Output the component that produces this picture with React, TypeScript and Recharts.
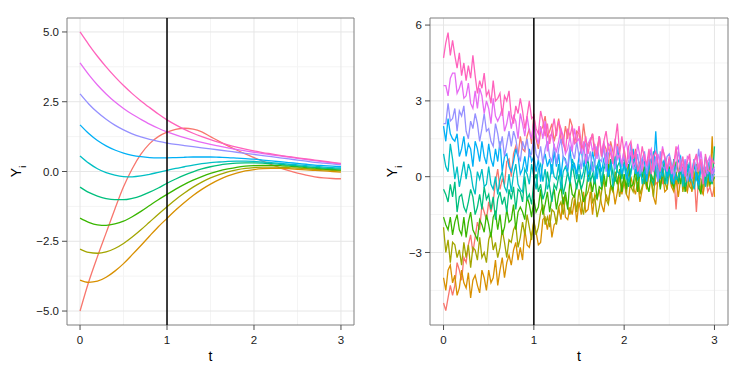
import React from "react";
import {
  CartesianGrid,
  Line,
  LineChart,
  ReferenceArea,
  ReferenceLine,
  XAxis,
  YAxis,
} from "recharts";

const FONT = '"Liberation Sans", Arial, Helvetica, sans-serif';

// ggplot hue palette, group 1..10
const COLORS = [
  "#F8766D",
  "#D89000",
  "#A3A500",
  "#39B600",
  "#00BF7D",
  "#00BFC4",
  "#00B0F6",
  "#9590FF",
  "#E76BF3",
  "#FF62BC",
];

const X_TICKS = [0, 1, 2, 3];
const X_MINOR = [0.5, 1.5, 2.5];

// left panel: deterministic solutions
const T_SMOOTH = [
  0, 0.1, 0.2, 0.3, 0.4, 0.5, 0.6, 0.7, 0.8, 0.9, 1, 1.1, 1.2, 1.3, 1.4, 1.5,
  1.6, 1.7, 1.8, 1.9, 2, 2.1, 2.2, 2.3, 2.4, 2.5, 2.6, 2.7, 2.8, 2.9, 3,
];
const smoothRed = [-5, -3.95, -3.05, -2.2, -1.35, -0.55, 0.1, 0.62, 1.0, 1.25, 1.41, 1.51, 1.55, 1.52, 1.42, 1.25, 1.08, 0.92, 0.77, 0.63, 0.5, 0.37, 0.25, 0.13, 0.03, -0.06, -0.13, -0.19, -0.23, -0.25, -0.26];
const smoothOrange = [-3.89, -3.97, -3.93, -3.79, -3.57, -3.3, -2.98, -2.65, -2.31, -1.98, -1.68, -1.38, -1.11, -0.86, -0.64, -0.45, -0.29, -0.16, -0.06, 0.02, 0.07, 0.1, 0.11, 0.11, 0.1, 0.08, 0.06, 0.04, 0.02, 0.0, -0.02];
const smoothOlive = [-2.78, -2.9, -2.93, -2.88, -2.76, -2.58, -2.35, -2.09, -1.81, -1.53, -1.26, -1.0, -0.77, -0.56, -0.38, -0.23, -0.11, -0.01, 0.06, 0.11, 0.14, 0.16, 0.16, 0.15, 0.14, 0.12, 0.1, 0.08, 0.06, 0.04, 0.02];
const smoothGreen = [-1.67, -1.82, -1.91, -1.93, -1.88, -1.78, -1.62, -1.43, -1.22, -1.01, -0.82, -0.63, -0.46, -0.31, -0.18, -0.07, 0.02, 0.09, 0.15, 0.19, 0.21, 0.22, 0.22, 0.21, 0.19, 0.17, 0.14, 0.12, 0.09, 0.07, 0.05];
const smoothTeal = [-0.56, -0.75, -0.88, -0.97, -1.01, -1.01, -0.96, -0.87, -0.74, -0.59, -0.42, -0.27, -0.13, -0.01, 0.09, 0.17, 0.23, 0.27, 0.3, 0.31, 0.31, 0.3, 0.28, 0.26, 0.23, 0.2, 0.17, 0.15, 0.12, 0.1, 0.09];
const smoothCyan = [0.56, 0.3, 0.1, -0.04, -0.13, -0.18, -0.19, -0.16, -0.1, -0.03, 0.04, 0.11, 0.17, 0.23, 0.28, 0.32, 0.34, 0.36, 0.37, 0.37, 0.36, 0.34, 0.32, 0.29, 0.26, 0.24, 0.21, 0.19, 0.16, 0.14, 0.13];
const smoothBlue = [1.67, 1.36, 1.11, 0.92, 0.77, 0.66, 0.58, 0.53, 0.5, 0.49, 0.49, 0.5, 0.51, 0.52, 0.52, 0.52, 0.51, 0.5, 0.48, 0.46, 0.44, 0.41, 0.38, 0.35, 0.32, 0.29, 0.26, 0.23, 0.21, 0.19, 0.17];
const smoothLavender = [2.78, 2.42, 2.12, 1.87, 1.66, 1.49, 1.35, 1.24, 1.15, 1.08, 1.02, 0.97, 0.93, 0.89, 0.85, 0.81, 0.77, 0.73, 0.69, 0.65, 0.61, 0.57, 0.53, 0.49, 0.45, 0.41, 0.37, 0.33, 0.3, 0.27, 0.24];
const smoothMagenta = [3.89, 3.47, 3.1, 2.78, 2.5, 2.26, 2.05, 1.87, 1.7, 1.55, 1.42, 1.31, 1.21, 1.12, 1.04, 0.97, 0.91, 0.85, 0.79, 0.74, 0.69, 0.64, 0.6, 0.56, 0.52, 0.47, 0.43, 0.39, 0.35, 0.31, 0.27];
const smoothPink = [5.0, 4.55, 4.13, 3.75, 3.4, 3.08, 2.79, 2.53, 2.29, 2.06, 1.85, 1.67, 1.51, 1.37, 1.25, 1.14, 1.04, 0.95, 0.87, 0.8, 0.74, 0.68, 0.63, 0.58, 0.53, 0.49, 0.45, 0.41, 0.37, 0.33, 0.29];

// right panel: noisy observations
const T_NOISY = [
  0, 0.025, 0.05, 0.075, 0.1, 0.125, 0.15, 0.175, 0.2, 0.225,
  0.25, 0.275, 0.3, 0.325, 0.35, 0.375, 0.4, 0.425, 0.45, 0.475,
  0.5, 0.525, 0.55, 0.575, 0.6, 0.625, 0.65, 0.675, 0.7, 0.725,
  0.75, 0.775, 0.8, 0.825, 0.85, 0.875, 0.9, 0.925, 0.95, 0.975,
  1, 1.025, 1.05, 1.075, 1.1, 1.125, 1.15, 1.175, 1.2, 1.225,
  1.25, 1.275, 1.3, 1.325, 1.35, 1.375, 1.4, 1.425, 1.45, 1.475,
  1.5, 1.525, 1.55, 1.575, 1.6, 1.625, 1.65, 1.675, 1.7, 1.725,
  1.75, 1.775, 1.8, 1.825, 1.85, 1.875, 1.9, 1.925, 1.95, 1.975,
  2, 2.025, 2.05, 2.075, 2.1, 2.125, 2.15, 2.175, 2.2, 2.225,
  2.25, 2.275, 2.3, 2.325, 2.35, 2.375, 2.4, 2.425, 2.45, 2.475,
  2.5, 2.525, 2.55, 2.575, 2.6, 2.625, 2.65, 2.675, 2.7, 2.725,
  2.75, 2.775, 2.8, 2.825, 2.85, 2.875, 2.9, 2.925, 2.95, 2.975,
  3,
];
const noisyRed = [
  -5.0, -5.3, -4.8, -4.3, -4.7, -4.3, -3.4, -3.7, -4.1, -3.2,
  -3.4, -2.7, -2.3, -3.0, -2.4, -1.8, -2.1, -1.1, -1.4, -1.7,
  -1.0, -1.4, -1.0, -0.2, 0.3, -0.5, -0.1, -0.3, 0.6, 0.7,
  0.0, 0.9, 1.2, 0.8, 1.6, 1.1, 1.0, 1.6, 1.9, 1.3,
  2.5, 1.5, 1.1, 1.8, 2.0, 2.4, 1.6, 1.8, 2.1, 1.4,
  1.8, 2.3, 1.5, 1.3, 2.0, 1.5, 2.3, 2.0, 1.3, 1.8,
  1.7, 1.1, 2.1, 1.4, 1.2, 1.4, 1.7, 0.8, 1.1, 1.6,
  0.8, 1.3, 1.1, 0.4, 1.4, 1.0, 0.5, 1.3, 0.7, 0.4,
  1.1, 0.5, 0.2, 0.9, 0.4, 1.1, -0.1, 0.5, 0.6, 0.1,
  -0.2, 0.2, 0.7, 0.4, -0.3, -0.2, 0.4, -0.3, 0.7, 0.2,
  0.2, -0.4, 0.1, -1.3, 0.0, 0.2, -0.3, 0.0, -0.6, 0.3,
  -0.4, 0.1, -1.4, 0.0, -0.1, -0.7, 0.2, -0.6, -0.4, -0.8,
  -0.4,
];
const noisyOrange = [
  -4.0, -4.5, -3.7, -3.5, -4.2, -3.9, -4.7, -4.4, -3.7, -4.2,
  -4.4, -3.8, -4.8, -4.1, -3.9, -4.3, -4.6, -3.7, -4.0, -4.5,
  -3.7, -4.2, -4.0, -3.3, -4.3, -3.7, -3.2, -4.0, -3.4, -3.1,
  -3.5, -2.9, -2.6, -3.3, -2.8, -3.3, -2.1, -2.7, -2.8, -2.3,
  -1.8, -2.2, -2.7, -2.6, -1.7, -1.6, -2.1, -1.5, -2.4, -1.9,
  -1.8, -1.2, -1.7, -0.8, -1.6, -1.7, -1.2, -1.5, -0.9, -1.8,
  -1.0, -1.5, -0.6, -1.4, -1.3, -0.6, -1.5, -0.7, -0.9, -0.5,
  -1.1, -1.4, -0.7, -1.0, -0.4, -0.4, -1.1, -0.6, 0.0, -0.7,
  -0.2, -0.7, -0.9, 0.0, -0.4, -0.7, -0.2, -1.0, -0.5, 0.0,
  -0.5, 0.2, -0.2, -0.8, -1.1, 0.0, -0.3, 0.1, -0.6, -0.5,
  0.3, -0.4, -0.6, -0.1, -0.8, -0.1, 0.2, -0.4, -0.6, 0.1,
  -0.6, 0.0, 0.4, -0.3, -0.5, -0.7, 0.1, -0.1, -0.4, 1.6,
  -0.8,
];
const noisyOlive = [
  -2.0, -3.0, -2.5, -3.4, -2.6, -2.7, -3.2, -2.9, -3.5, -2.6,
  -3.2, -2.7, -3.6, -2.8, -2.9, -3.3, -2.4, -3.2, -3.0, -3.4,
  -2.5, -2.2, -2.9, -2.6, -3.2, -2.8, -2.1, -2.6, -3.2, -2.5,
  -2.6, -2.1, -1.9, -2.8, -2.4, -1.8, -2.3, -1.5, -2.0, -2.5,
  -1.7, -2.3, -2.0, -1.4, -1.1, -1.9, -1.6, -2.0, -1.3, -1.4,
  -1.9, -1.2, -1.0, -1.5, -0.8, -1.2, -1.5, -0.9, -0.7, -1.4,
  -0.5, -1.1, -1.5, -0.8, -0.6, -0.2, -1.0, -0.8, -1.6, -1.2,
  -0.6, -0.1, -0.9, -1.1, -0.4, -0.6, 0.2, -0.1, -0.8, -0.3,
  -0.1, -0.7, 0.3, -0.4, -0.6, -0.1, 0.2, -0.7, -0.4, 0.1,
  -0.4, 0.2, 0.0, -0.8, 0.3, 0.1, -0.4, 0.4, -0.2, -0.5,
  0.4, -0.2, -0.5, 0.2, -0.3, 0.6, -0.6, 0.0, 0.1, -0.4,
  -0.5, -0.1, 0.5, 0.2, -0.6, -0.3, 0.3, -0.4, 0.6, 0.1,
  -0.1,
];
const noisyGreen = [
  -1.6, -1.9, -2.1, -1.6, -2.3, -1.8, -1.5, -2.1, -2.3, -1.6,
  -2.4, -1.8, -1.4, -2.1, -2.3, -2.5, -1.7, -1.9, -2.2, -1.5,
  -1.9, -2.4, -1.6, -1.4, -2.1, -1.5, -2.3, -2.0, -1.3, -1.8,
  -1.7, -1.1, -2.1, -1.4, -1.2, -1.4, -1.7, -0.8, -1.1, -1.6,
  -0.9, -1.4, -1.2, -0.5, -1.5, -1.1, -0.6, -1.4, -0.8, -0.5,
  -1.3, -0.7, -0.4, -1.1, -0.6, -1.3, -0.1, -0.7, -0.8, -0.3,
  -0.1, -0.5, -1.0, -0.7, 0.1, -0.1, -0.6, 0.0, -0.9, -0.4,
  -0.5, 0.1, -0.4, 0.5, -0.3, -0.5, 0.0, -0.3, 0.3, -0.6,
  0.1, -0.5, 0.5, -0.4, -0.3, 0.3, -0.6, 0.2, 0.0, 0.4,
  -0.3, -0.6, 0.1, -0.2, 0.4, 0.3, -0.5, 0.1, 0.7, -0.1,
  0.4, -0.2, -0.4, 0.6, 0.2, -0.3, 0.2, -0.6, -0.1, 0.4,
  -0.1, 0.5, 0.2, -0.4, -0.7, 0.3, 0.0, 0.4, -0.3, -0.2,
  0.0,
];
const noisyTeal = [
  -0.5, -0.7, -1.0, -0.3, -0.8, -0.2, -1.4, -0.8, -0.7, -1.2,
  -1.4, -1.0, -0.5, -0.8, -1.5, -1.2, -0.7, -1.3, -0.4, -0.9,
  -0.7, -1.3, -0.8, -1.7, -0.9, -0.6, -1.1, -0.8, -1.4, -0.5,
  -0.9, -0.4, -1.3, -0.5, -0.6, -1.0, 0.0, -0.9, -0.7, -1.1,
  -0.2, 0.1, -0.6, -0.3, -0.9, -0.6, 0.2, -0.4, -1.0, -0.3,
  -0.5, 0.0, 0.2, -0.7, -0.3, 0.2, -0.3, 0.5, 0.0, -0.5,
  0.1, -0.5, -0.2, 0.4, 0.7, -0.2, 0.1, -0.3, 0.4, 0.3,
  -0.4, 0.3, 0.5, 0.0, 0.7, 0.1, -0.2, 0.4, 0.6, -0.1,
  0.6, 0.0, -0.4, 0.3, 0.5, 0.7, -0.1, 0.1, 0.4, -0.3,
  0.2, 0.7, -0.1, -0.3, 0.4, -0.1, 0.8, 0.5, -0.3, 0.3,
  0.3, -0.3, 0.7, 0.0, -0.2, 0.2, 0.5, -0.4, -0.1, 0.4,
  -0.1, 0.4, 0.2, -0.5, 0.5, 0.3, -0.2, 0.6, 0.0, -0.3,
  1.2,
];
const noisyCyan = [
  0.9, 0.4, 0.2, 1.3, 0.7, -0.1, 0.4, -0.4, 0.1, 0.6,
  -0.1, 0.5, 0.2, -0.4, -0.7, 0.2, -0.1, 0.3, -0.4, -0.3,
  0.4, -0.3, -0.5, 0.0, -0.7, -0.1, 0.2, -0.4, -0.6, 0.1,
  -0.6, 0.1, 0.5, -0.3, -0.5, -0.6, 0.3, 0.1, -0.3, 0.5,
  0.0, -0.5, 0.3, 0.5, -0.2, 0.3, -0.5, -0.2, 0.5, 0.0,
  -0.1, 0.5, -0.5, 0.2, 0.4, 0.1, -0.2, 0.7, 0.4, -0.1,
  0.5, -0.1, 0.2, 0.9, -0.2, 0.1, 0.6, -0.2, 0.4, 0.7,
  -0.2, 0.4, 0.7, 0.0, 0.5, -0.4, 0.8, 0.2, 0.1, 0.6,
  0.7, 0.3, -0.2, 0.1, 0.8, 0.5, 0.0, 0.6, -0.3, 0.2,
  0.0, 0.6, 0.1, 1.0, 0.2, -0.2, 0.3, 0.0, 0.6, -0.3,
  0.3, -0.2, 0.7, -0.1, 0.0, 0.5, -0.4, 0.4, 0.2, 0.6,
  -0.2, -0.5, 0.2, -0.1, 0.5, 0.3, -0.4, 0.1, 0.7, 0.0,
  0.1,
];
const noisyBlue = [
  2.0, 1.4, 2.3, 1.7, 1.5, 1.4, 1.7, 0.8, 1.1, 1.6,
  0.8, 1.3, 1.1, 0.4, 1.4, 1.1, 0.6, 1.4, 0.8, 0.5,
  1.3, 0.7, 0.4, 1.1, 0.6, 1.4, 0.2, 0.8, 0.9, 0.4,
  0.2, 0.6, 1.1, 0.8, 0.1, 0.3, 0.8, 0.2, 1.1, 0.6,
  0.8, 0.2, 0.7, -0.2, 0.6, 0.9, 0.4, 0.7, 0.1, 1.0,
  0.4, 0.9, 0.0, 0.8, 0.7, 0.2, 1.1, 0.3, 0.5, 0.1,
  0.8, 1.1, 0.4, 0.7, 0.1, 0.3, 1.0, 0.5, -0.1, 0.6,
  0.2, 0.7, 0.9, 0.0, 0.4, 0.8, 0.3, 1.1, 0.6, 0.1,
  0.5, -0.1, 0.2, 0.8, 1.1, 0.1, 0.4, 0.0, 0.7, 0.6,
  -0.2, 0.5, 0.7, 0.2, 1.8, 0.2, -0.1, 0.5, 0.7, 0.0,
  0.7, 0.1, -0.3, 0.4, 0.6, 0.8, 0.0, 0.2, 0.5, -0.2,
  0.2, 0.7, -0.1, -0.3, 0.4, 0.0, 0.8, 0.5, -0.2, 0.3,
  0.2,
];
const noisyLavender = [
  2.1, 2.1, 2.9, 2.2, 2.3, 2.7, 1.8, 2.6, 2.4, 2.8,
  1.8, 1.5, 2.2, 1.9, 2.5, 2.1, 1.4, 1.9, 2.5, 1.8,
  1.9, 1.4, 1.2, 2.1, 1.7, 1.1, 1.6, 0.8, 1.3, 1.8,
  1.2, 1.8, 1.5, 0.9, 0.6, 1.4, 1.1, 1.5, 0.8, 0.9,
  1.6, 0.9, 0.7, 1.2, 0.5, 1.1, 1.4, 0.8, 0.6, 1.3,
  0.5, 1.1, 1.5, 0.8, 0.6, 0.4, 1.2, 1.0, 0.7, 1.4,
  0.8, 0.3, 1.1, 1.3, 0.6, 1.0, 0.2, 0.5, 1.2, 0.7,
  0.6, 1.2, 0.2, 0.9, 1.1, 0.6, 0.3, 1.2, 0.9, 0.4,
  0.9, 0.4, 0.6, 1.3, 0.3, 0.4, 0.9, 0.1, 0.7, 1.0,
  0.1, 0.7, 1.0, 0.3, 0.8, -0.2, 1.0, 0.4, 0.3, 0.8,
  0.9, 0.5, 0.0, 0.3, 1.0, 0.6, 0.1, 0.7, -0.2, 0.3,
  0.1, 0.7, 0.2, 1.1, 0.3, -0.1, 0.4, 0.1, 0.7, -0.2,
  0.3,
];
const noisyMagenta = [
  3.6, 3.6, 3.2, 3.9, 4.1, 4.1, 3.3, 3.5, 3.8, 3.1,
  3.2, 3.7, 2.9, 2.7, 3.4, 2.7, 3.5, 3.2, 2.5, 3.0,
  2.7, 2.1, 3.1, 2.4, 2.2, 2.4, 2.7, 1.8, 2.1, 2.6,
  1.9, 2.4, 2.2, 1.5, 2.5, 2.1, 1.6, 2.4, 1.8, 1.5,
  2.2, 1.6, 1.3, 2.0, 1.5, 2.2, 1.0, 1.6, 1.7, 1.2,
  1.0, 1.4, 1.9, 1.6, 0.9, 1.1, 1.6, 1.0, 1.9, 1.4,
  1.5, 0.9, 1.4, 0.5, 1.3, 1.5, 1.0, 1.3, 0.7, 1.6,
  0.9, 1.4, 0.5, 1.3, 1.2, 0.6, 1.5, 0.7, 0.9, 0.5,
  1.1, 1.4, 0.7, 1.0, 0.4, 0.6, 1.3, 0.8, 0.2, 0.9,
  0.4, 0.9, 1.1, 0.2, 0.6, 0.9, 0.4, 1.2, 0.7, 0.2,
  0.7, 0.1, 0.4, 1.0, 1.2, 0.2, 0.5, 0.1, 0.8, 0.7,
  -0.1, 0.6, 0.8, 0.3, 1.0, 0.3, 0.0, 0.6, 0.8, 0.1,
  0.4,
];
const noisyPink = [
  4.7, 5.3, 5.7, 4.8, 5.4, 4.8, 4.3, 4.9, 4.0, 4.5,
  3.8, 4.4, 3.9, 4.8, 4.0, 3.3, 3.8, 3.5, 4.1, 3.2,
  3.4, 2.9, 3.8, 3.0, 3.1, 3.3, 2.4, 3.2, 3.0, 3.4,
  2.4, 2.1, 2.8, 2.5, 3.1, 2.6, 1.9, 2.4, 3.0, 2.3,
  2.4, 1.9, 1.7, 2.6, 2.2, 1.6, 2.1, 1.3, 1.8, 2.3,
  1.6, 2.2, 1.9, 1.3, 1.0, 1.9, 1.6, 2.0, 1.3, 1.4,
  2.0, 1.3, 1.1, 1.6, 0.9, 1.4, 1.7, 1.1, 0.9, 1.6,
  0.8, 1.4, 1.8, 1.1, 0.9, 0.5, 1.4, 2.1, 0.9, 1.6,
  0.9, 0.4, 1.2, 1.4, 0.7, 1.0, 0.2, 0.5, 1.2, 0.7,
  0.5, 1.1, 0.1, 0.8, 1.0, 0.5, 0.2, 1.1, 0.8, 0.3,
  0.8, 0.3, 0.5, 1.2, 0.2, 0.3, 0.8, 0.0, 0.6, 0.9,
  0.0, 0.6, 0.9, 0.2, 0.7, -0.3, 0.9, 0.3, 0.2, 0.7,
  0.5,
];

const SMOOTH = [smoothRed, smoothOrange, smoothOlive, smoothGreen, smoothTeal, smoothCyan, smoothBlue, smoothLavender, smoothMagenta, smoothPink];
const NOISY = [noisyRed, noisyOrange, noisyOlive, noisyGreen, noisyTeal, noisyCyan, noisyBlue, noisyLavender, noisyMagenta, noisyPink];

const toRows = (ts: number[], cols: number[][]) =>
  ts.map((t, i) => {
    const row: Record<string, number> = { t };
    cols.forEach((c, k) => (row[`y${k + 1}`] = c[i]));
    return row;
  });

const smoothData = toRows(T_SMOOTH, SMOOTH);
const noisyData = toRows(T_NOISY, NOISY);

const fmtLeft = (v: number) =>
  (v < 0 ? "\u2212" : "") + Math.abs(v).toFixed(1);
const fmtRight = (v: number) => (v < 0 ? "\u2212" : "") + Math.abs(v);

type PanelProps = {
  data: Array<Record<string, number>>;
  left: number;
  width: number;
  marginRight: number;
  yWidth: number;
  yDomain: [number, number];
  yTicks: number[];
  yMinor: number[];
  fmt: (v: number) => string;
  curve: "monotone" | "linear";
  labelDx: number;
};

function Panel({ data, left, width, marginRight, yWidth, yDomain, yTicks, yMinor, fmt, curve, labelDx }: PanelProps) {
  const tickStyle = { fontSize: 11.5, fill: "#1a1a1a", fontFamily: FONT };
  return (
    <div style={{ position: "absolute", left, top: 0 }}>
      <LineChart
        width={width}
        height={374}
        data={data}
        margin={{ top: 18, right: marginRight, bottom: 0, left: 0 }}
      >
        <CartesianGrid stroke="#f4f4f4" verticalValues={X_MINOR} horizontalValues={yMinor} />
        <CartesianGrid stroke="#e6e6e6" verticalValues={X_TICKS} horizontalValues={yTicks} />
        <XAxis
          dataKey="t"
          type="number"
          domain={[-0.15, 3.15]}
          ticks={X_TICKS}
          allowDataOverflow
          axisLine={false}
          tickLine={{ stroke: "#4d4d4d" }}
          tickSize={5}
          tickMargin={6}
          tick={tickStyle}
          height={49}
          label={{
            content: (p: any) => (
              <text
                x={p.viewBox.x + p.viewBox.width / 2}
                y={p.viewBox.y + 35.5}
                textAnchor="middle"
                fontSize={14}
                fontFamily={FONT}
                fill="#000"
              >
                t
              </text>
            ),
          }}
        />
        <YAxis
          type="number"
          domain={yDomain}
          ticks={yTicks}
          allowDataOverflow
          axisLine={false}
          tickLine={{ stroke: "#4d4d4d" }}
          tickSize={5}
          tickMargin={3}
          tick={tickStyle}
          tickFormatter={fmt}
          width={yWidth}
          label={{
            content: (p: any) => {
              const cx = p.viewBox.x + labelDx;
              const cy = p.viewBox.y + p.viewBox.height / 2;
              return (
                <text
                  transform={`translate(${cx},${cy}) rotate(-90)`}
                  textAnchor="middle"
                  fontSize={14}
                  fontFamily={FONT}
                  fill="#000"
                >
                  Y
                  <tspan fontSize={9} dy={5}>
                    i
                  </tspan>
                </text>
              );
            },
          }}
        />
        {COLORS.map((c, k) => (
          <Line
            key={c}
            type={curve}
            dataKey={`y${k + 1}`}
            stroke={c}
            strokeWidth={1.3}
            dot={false}
            activeDot={false}
            isAnimationActive={false}
          />
        ))}
        <ReferenceLine x={1} stroke="#000" strokeWidth={1.5} />
        <ReferenceArea
          x1={-0.15}
          x2={3.15}
          y1={yDomain[0]}
          y2={yDomain[1]}
          fill="none"
          fillOpacity={0}
          stroke="#7f7f7f"
          strokeWidth={1}
        />
      </LineChart>
    </div>
  );
}

export default function App() {
  return (
    <div
      style={{
        position: "absolute",
        left: 0,
        top: 0,
        width: 747,
        height: 374,
        background: "#fff",
      }}
    >
      <Panel
        data={smoothData}
        left={0}
        width={370}
        marginRight={16}
        yWidth={67}
        yDomain={[-5.5, 5.5]}
        yTicks={[-5, -2.5, 0, 2.5, 5]}
        yMinor={[-3.75, -1.25, 1.25, 3.75]}
        fmt={fmtLeft}
        curve="monotone"
        labelDx={21}
      />
      <Panel
        data={noisyData}
        left={370}
        width={377}
        marginRight={19}
        yWidth={60}
        yDomain={[-5.87, 6.28]}
        yTicks={[-3, 0, 3, 6]}
        yMinor={[-4.5, -1.5, 1.5, 4.5]}
        fmt={fmtRight}
        curve="linear"
        labelDx={27}
      />
    </div>
  );
}
